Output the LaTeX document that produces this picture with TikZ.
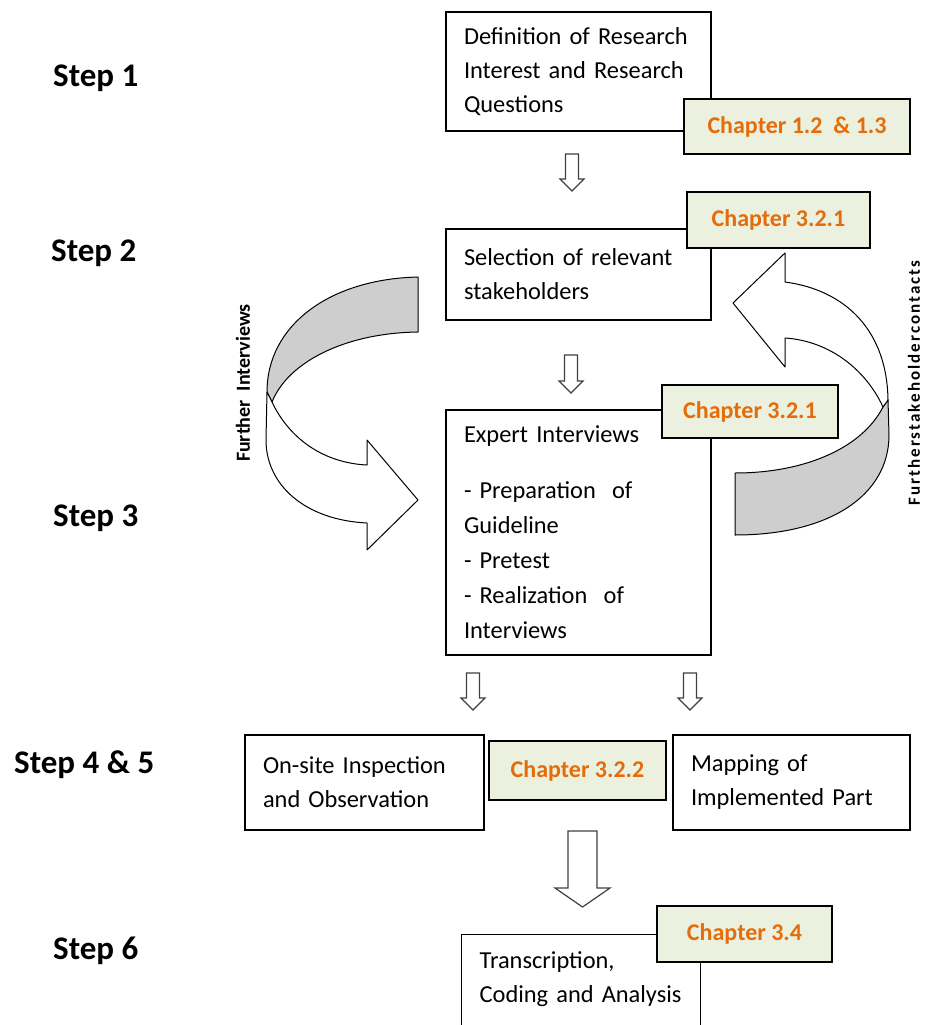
\documentclass[tikz,border=0pt]{standalone}
\usepackage{fontspec}
\setmainfont{Carlito}
\usetikzlibrary{positioning}

\definecolor{chapgreen}{RGB}{235,241,222}
\definecolor{chaporange}{RGB}{228,108,10}
\definecolor{bandgray}{RGB}{206,206,206}

% hollow block arrow pointing down: x, top, bottom, shaft half-width, head half-width, head length
\newcommand{\hollowdown}[6]{%
  \draw[blockarrow] (#1-#4,#2) -- (#1+#4,#2) -- (#1+#4,#3-#6) -- (#1+#5,#3-#6)
    -- (#1,#3) -- (#1-#5,#3-#6) -- (#1-#4,#3-#6) -- cycle;}

\tikzset{
  stepbox/.style={draw, line width=1.3pt, align=left, inner xsep=18pt, inner ysep=0pt,
    font=\fontsize{24.4}{34}\selectfont},
  chapbox/.style={draw, line width=1.3pt, fill=chapgreen, text=chaporange,
    font=\fontsize{24}{28}\selectfont\bfseries},
  steplabel/.style={anchor=west, inner sep=0pt, font=\fontsize{33}{36}\selectfont\bfseries},
  blockarrow/.style={draw=black!75, line width=1.2pt, fill=white},
  band/.style={draw, line width=1pt, line join=round},
  sidelabel/.style={rotate=90, inner sep=0pt, font=\fontsize{20}{22}\selectfont\bfseries}
}

\begin{document}
\begin{tikzpicture}[x=1pt, y=-1pt]
  \useasboundingbox (0,0) rectangle (926,1025);

  % Step labels
  \node[steplabel] (s1) at (53,78) {Step 1};
  \node[steplabel] (s2) at (51,253) {Step 2};
  \node[steplabel] (s3) at (53,518) {Step 3};
  \node[steplabel] (s45) at (14,765) {Step 4 \& 5};
  \node[steplabel] (s6) at (53,951) {Step 6};

  % === Boxes
  \node[stepbox, minimum height=119pt, text width=229pt] (def) at (578.5,71.5)
    {Definition of Research\\ Interest and Research\\ Questions};
  \node[stepbox, minimum height=91pt, text width=229pt] (sel) at (578.5,274.5)
    {Selection of relevant\\ stakeholders};
  \node[stepbox, minimum height=245pt, text width=229pt, font=\fontsize{24.4}{35}\selectfont]
    (exp) at (578.5,532.5)
    {Expert Interviews\\[21pt] - Preparation\ \ of\\ Guideline\\ - Pretest\\ - Realization\ \ of\\ Interviews};
  \node[stepbox, minimum height=95pt, text width=203pt] (ons) at (364.5,782.5)
    {On-site Inspection\\ and Observation};
  \node[stepbox, minimum height=95pt, text width=201pt] (map) at (791.5,782.5)
    {Mapping of\\ Implemented Part};
  \node[stepbox, anchor=north west, inner ysep=17pt, text width=203pt,
    text depth=60pt] (tra) at (461,934)
    {Transcription,\\ Coding and Analysis};

  % === Chapter tags
  \node[chapbox, minimum width=226pt, minimum height=55pt] (ch1) at (797,126.5) {Chapter 1.2\ \ \& 1.3};
  \node[chapbox, minimum width=183pt, minimum height=56pt] (ch2) at (778.5,220) {Chapter 3.2.1};
  \node[chapbox, minimum width=176pt, minimum height=53pt] (ch3) at (750,411.5) {Chapter 3.2.1};
  \node[chapbox, minimum width=177pt, minimum height=59pt] (ch4) at (577.5,770.5) {Chapter 3.2.2};
  \node[chapbox, minimum width=175pt, minimum height=56pt] (ch5) at (744.5,934) {Chapter 3.4};

  % === Block arrows between steps
  \hollowdown{572}{154}{191}{6.5}{12}{12}
  \hollowdown{571}{355}{393}{6.5}{12}{12}
  \hollowdown{473}{673}{710}{6.5}{12}{12}
  \hollowdown{690}{673}{710}{6.5}{12}{12}
  \hollowdown{582.5}{831}{907}{14.5}{27.5}{19}

  % === Left curved arrow (further interviews)
  \draw[band, fill=bandgray] (418,277) .. controls (330,279) and (267,325) .. (267,392)
    -- (272,402) .. controls (288,362) and (345,333) .. (418,332) -- cycle;
  \draw[band, fill=white] (272,402) .. controls (290,440) and (325,463) .. (367,465)
    -- (367,440) -- (418,500) -- (367,550) -- (367,523)
    .. controls (305,520) and (266,485) .. (266,440) -- (267,392) -- cycle;
  \node[sidelabel] (fi) at (243,383) {Further\ \ Interviews};

  % === Right curved arrow (further contacts)
  \draw[band, fill=bandgray] (883,407) .. controls (862,448) and (805,473) .. (735,473)
    -- (735,535) .. controls (830,535) and (889,495) .. (889,435) -- (888,400) -- cycle;
  \draw[band, fill=white] (883,407) .. controls (866,370) and (830,341) .. (785,338)
    -- (785,367) -- (733,303) -- (785,253) -- (785,282)
    .. controls (845,290) and (887,330) .. (888,400) -- cycle;
  \node[sidelabel, font=\fontsize{17}{20}\selectfont\bfseries] (fc) at (914,383)
    {\addfontfeatures{LetterSpace=12}Furtherstakeholdercontacts};

\end{tikzpicture}
\end{document}
